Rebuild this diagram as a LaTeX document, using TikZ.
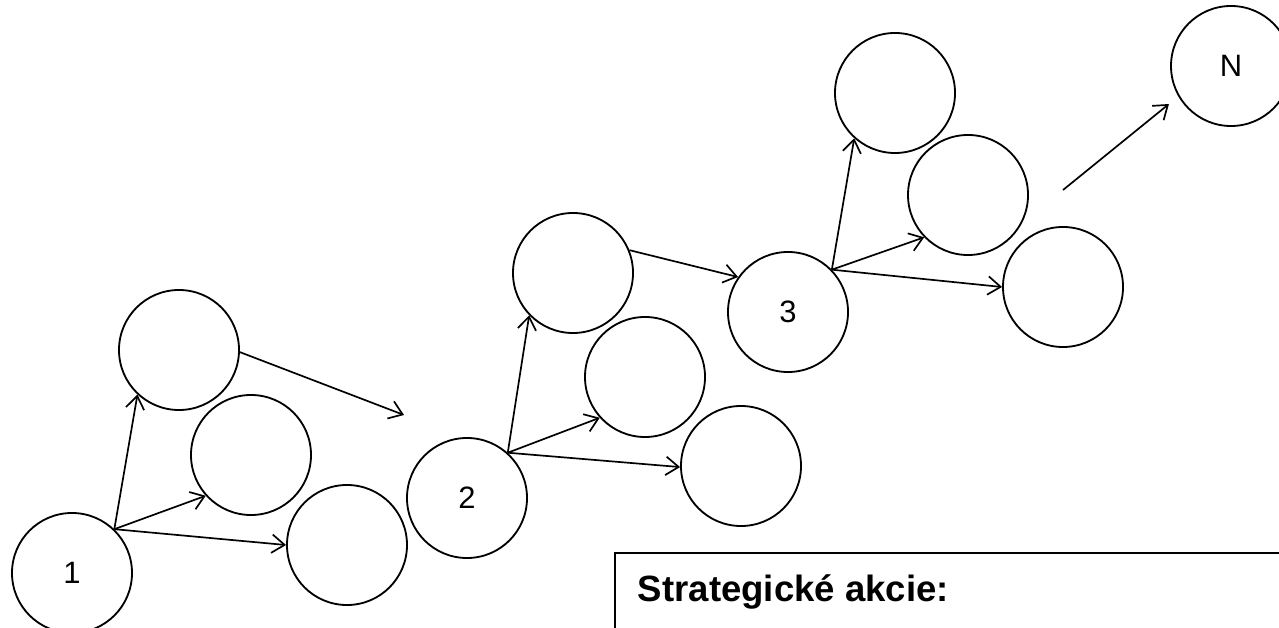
\documentclass[tikz,border=0pt]{standalone}
\usepackage{fontspec}
\setmainfont{Liberation Sans}
\usetikzlibrary{arrows.meta}

\begin{document}
\begin{tikzpicture}[x=0.025cm,y=-0.025cm,
    state/.style={draw,circle,line width=1.3pt,minimum size=3cm,inner sep=0pt,
                  font=\fontsize{22}{24}\selectfont},
    move/.style={line width=1.2pt,-{Straight Barb[length=3.2mm,width=4.6mm]}}]
     \useasboundingbox (0,0) rectangle (1279,628);
     \clip (0,0) rectangle (1279,628);
     % stage 1
     \node[state] (s1) at (72,573) {1};
     \node[state] (a1) at (179,350) {};
     \node[state] (a2) at (251,455) {};
     \node[state] (a3) at (347,545) {};
     % stage 2
     \node[state] (s2) at (467,498) {2};
     \node[state] (b1) at (573,273) {};
     \node[state] (b2) at (645,377) {};
     \node[state] (b3) at (741,466) {};
     % stage 3
     \node[state] (s3) at (788,312) {3};
     \node[state] (c1) at (895,93) {};
     \node[state] (c2) at (968,195) {};
     \node[state] (c3) at (1063,287) {};
     \node[state] (sN) at (1231,66) {N};
     \coordinate (gap1) at (404,415);
     \coordinate (gap3) at (1063,190);
     \draw[move] (s1.46) -- (a1.227);
     \draw[move] (s1.46) -- (a2.222);
     \draw[move] (s1.46) -- (a3.180);
     \draw[move] (a1.-2) -- (gap1);
     \draw[move] (s2.48) -- (b1.224);
     \draw[move] (s2.48) -- (b2.222);
     \draw[move] (s2.48) -- (b3.181);
     \draw[move] (b1.22) -- (s3.145);
     \draw[move] (s3.44) -- (c1.228);
     \draw[move] (s3.44) -- (c2.224);
     \draw[move] (s3.44) -- (c3.180);
     \draw[move,shorten >=3mm] (gap3) -- (sN.210);
     % legend box
     \node[draw,line width=1.3pt,anchor=north west,minimum width=16.65cm,
           minimum height=3cm,inner sep=0pt] (actions) at (614,552) {};
     \node[anchor=base west,font=\bfseries\fontsize{26}{28}\selectfont]
           (actlabel) at (633,601) {Strategické akcie:};
\end{tikzpicture}
\end{document}
